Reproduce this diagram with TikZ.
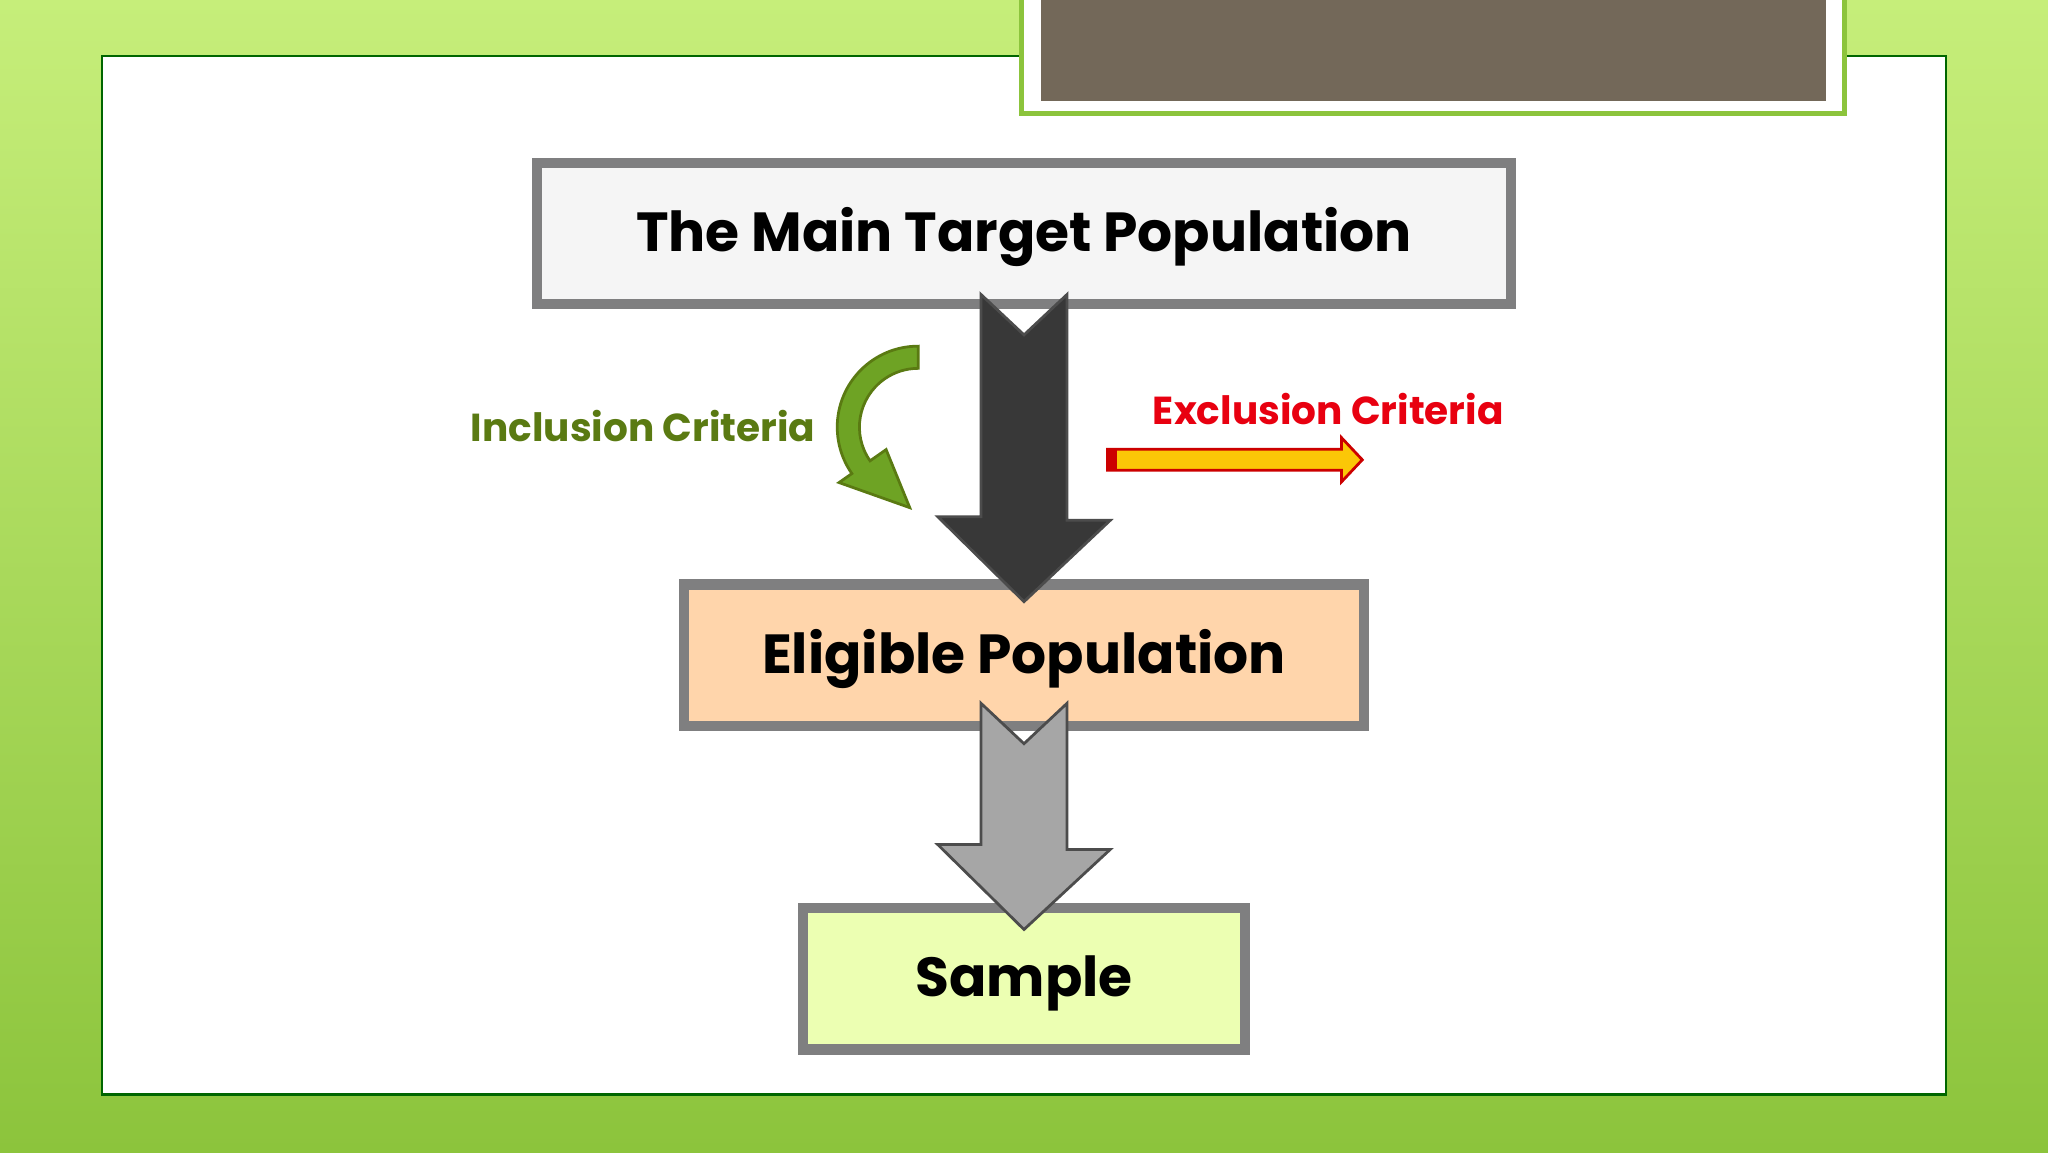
\documentclass[tikz,border=0pt]{standalone}
\usepackage{fontspec}
\setmainfont{Poppins}
\usetikzlibrary{positioning,calc}
\definecolor{bgdark}{HTML}{8CC43C}
\definecolor{bglight}{HTML}{C6EE7A}
\definecolor{taupe}{HTML}{736859}
\definecolor{boxline}{HTML}{7F7F80}
\definecolor{inccol}{HTML}{5A7A12}
\definecolor{incfill}{HTML}{6EA324}
\definecolor{exccol}{HTML}{E80010}
\tikzset{
  stagebox/.style={draw=boxline, line width=2.2pt, minimum height=1.08cm,
    inner sep=0pt, text depth=0.05cm, font=\bfseries\fontsize{12}{14}\selectfont},
  blockarrow/.style={draw=black!70, line width=0.6pt},
  crit/.style={font=\bfseries\fontsize{8.5}{10}\selectfont, inner sep=0pt}
}
\begin{document}
\begin{tikzpicture}
  \useasboundingbox (0,0) rectangle (15.68,-8.82);
  \shade[top color=bglight, bottom color=bgdark] (0,0) rectangle (15.68,-8.82);
  \draw[fill=white, draw=green!40!black, line width=0.5pt] (0.78,-0.43) rectangle (14.90,-8.38);
  % title bar
  \draw[fill=white, draw=bgdark, line width=1pt] (7.82,0.1) rectangle (14.12,-0.87);
  \fill[taupe] (7.97,0.1) rectangle (13.98,-0.77);

  \node[stagebox, fill=gray!8, minimum width=7.46cm] (target) at (7.84,-1.785) {The Main Target Population};
  \node[stagebox, fill=orange!33, minimum width=5.20cm] (eligible) at (7.84,-5.015) {Eligible Population};
  \node[stagebox, fill=lime!30!white, minimum width=3.38cm] (sample) at (7.84,-7.495) {Sample};

  % block arrows
  \draw[blockarrow, fill=black!78] ($(target.south)+(-0.33,0.11)$) -- ++(0.33,-0.31) -- ++(0.33,0.31)
    -- ++(0,-1.73) -- ++(0.33,0) -- ($(eligible.north)+(0,-0.17)$) -- ++(-0.66,0.65) -- ++(0.33,0) -- cycle;
  \draw[blockarrow, fill=gray!70] ($(eligible.south)+(-0.33,0.21)$) -- ++(0.33,-0.31) -- ++(0.33,0.31)
    -- ++(0,-1.12) -- ++(0.33,0) -- ($(sample.north)+(0,-0.2)$) -- ++(-0.66,0.65) -- ++(0.33,0) -- cycle;

  % inclusion
  \node[crit, text=inccol, anchor=east] (inctext) at (6.25,-3.26) {Inclusion Criteria};
  \coordinate (inc) at (7.03,-3.27);
  \draw[draw=inccol, fill=incfill, line width=0.6pt]
    ($(inc)+(90:0.62)$) arc (90:215:0.62) -- ($(inc)+(215:0.74)$)
    -- ($(inc)+(264:0.62)$) -- ($(inc)+(215:0.30)$) -- ($(inc)+(215:0.45)$)
    arc (215:90:0.45) -- cycle;

  % exclusion
  \node[crit, text=exccol, anchor=west] (exctext) at (8.82,-3.13) {Exclusion Criteria};
  \coordinate (exc) at (8.48,-3.52);
  \draw[draw=red!80!black, fill=yellow!60!orange, line width=0.6pt]
    ($(exc)+(0,0.08)$) -- ++(1.79,0) -- ++(0,0.09) -- ($(exc)+(1.95,0)$)
    -- ($(exc)+(1.79,-0.17)$) -- ++(0,0.09) -- ++(-1.79,0) -- cycle;
  \fill[red!80!black] ($(exc)+(0,0.08)$) rectangle ($(exc)+(0.07,-0.08)$);
\end{tikzpicture}
\end{document}
